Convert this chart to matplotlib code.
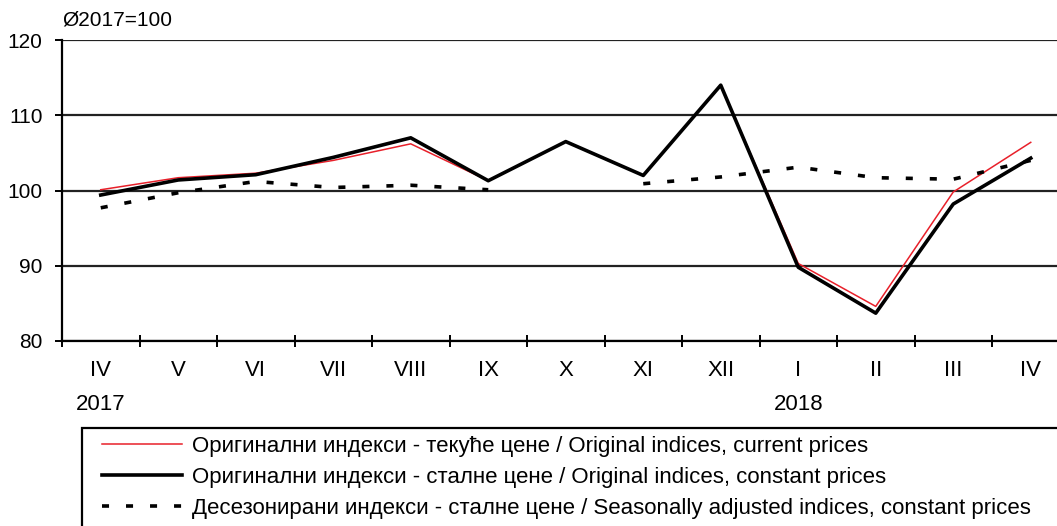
import numpy as np
import matplotlib
matplotlib.use("Agg")
import matplotlib.pyplot as plt
from matplotlib.patches import Rectangle

plt.rcParams["font.family"] = ["Liberation Sans", "DejaVu Sans"]

# monthly indices, Ø2017=100 (April 2017 - April 2018)
months = ["IV", "V", "VI", "VII", "VIII", "IX", "X", "XI", "XII", "I", "II", "III", "IV"]
years = {0: "2017", 9: "2018"}
current_prices = [100.1, 101.7, 102.3, 104.0, 106.2, 101.3, 106.5, 102.0, 114.0, 90.3, 84.6, 99.8, 106.4]
constant_prices = [99.4, 101.4, 102.1, 104.4, 107.0, 101.3, 106.5, 102.0, 114.0, 89.8, 83.7, 98.2, 104.3]
seasonally_adj = [97.7, 99.7, 101.2, 100.4, 100.7, 100.1, np.nan, 100.9, 101.8, 103.1, 101.7, 101.5, 104.0]

labels = [
    "Оригинални индекси - текуће цене / Original indices, current prices",
    "Оригинални индекси - сталне цене / Original indices, constant prices",
    "Десезонирани индекси - сталне цене / Seasonally adjusted indices, constant prices",
]

W, H = 1057, 526
fig = plt.figure(figsize=(W / 100, H / 100), dpi=100)
ax = fig.add_axes([62 / W, (H - 341) / H, 1007.5 / W, 301 / H])

x = np.arange(len(months))
l1, = ax.plot(x, current_prices, color="#e8202a", lw=1.1, zorder=3)
l2, = ax.plot(x, constant_prices, color="black", lw=2.6, zorder=4)
l3, = ax.plot(x, seasonally_adj, color="black", lw=2.6, zorder=5,
              dashes=(1.95, 4.7), dash_capstyle="butt")

ax.set_xlim(-0.5, len(months) - 0.5)
ax.set_ylim(80, 120)
ax.set_yticks([80, 90, 100, 110, 120])
ax.yaxis.grid(True, color="#222222", lw=1.6)
ax.set_axisbelow(True)

for s in ["top", "right"]:
    ax.spines[s].set_visible(False)
ax.spines["left"].set_linewidth(1.6)
ax.spines["bottom"].set_linewidth(1.6)

ax.tick_params(axis="y", direction="out", length=5, width=1.4, labelsize=15, pad=9)
ax.set_xticks(np.arange(-0.5, len(months), 1.0))
ax.set_xticklabels([])
ax.tick_params(axis="x", direction="inout", length=8, width=1.4)

narrow = ["Liberation Sans Narrow", "Liberation Sans"]
trans = ax.get_xaxis_transform()
for i, m in enumerate(months):
    ax.text(i, -30 / 301, m, transform=trans, ha="center", va="center",
            fontsize=16, family=narrow)
for i, yr in years.items():
    ax.text(i, -64 / 301, yr, transform=trans, ha="center", va="center",
            fontsize=16, family=narrow)

fig.text(62 / W, 1 - 20 / H, "Ø2017=100", ha="left", va="center", fontsize=15)

# legend frame (runs off the bottom/right of the picture)
fig.patches.append(Rectangle((82 / W, -0.05), 1.0, (H - 428) / H + 0.05,
                             transform=fig.transFigure, fill=False,
                             ec="black", lw=1.6))
leg = fig.legend([l1, l2, l3], labels, loc="upper left",
                 bbox_to_anchor=(102 / W, 1 - 436 / H), frameon=False,
                 fontsize=16, handlelength=3.6, handletextpad=0.45,
                 labelspacing=0.45, borderpad=0, borderaxespad=0)

fig.savefig("out.png", dpi=100)
